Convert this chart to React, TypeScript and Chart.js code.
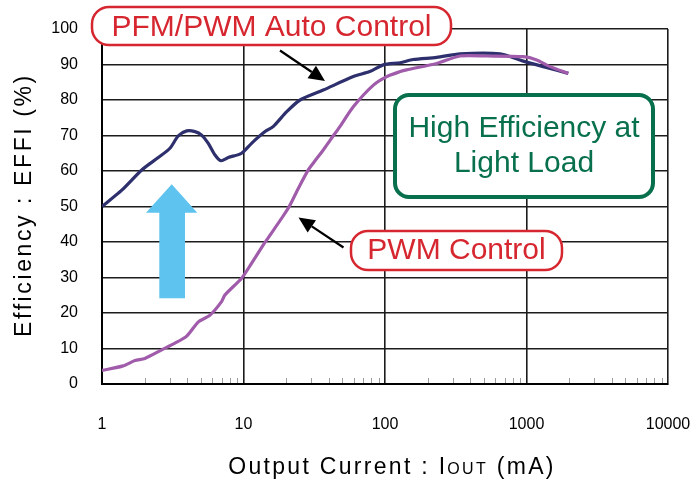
import React, { useEffect, useRef } from 'react';
import { Chart, registerables } from 'chart.js';

Chart.register(...registerables);

// PFM/PWM Auto Control curve (output current mA, efficiency %)
const pfmCurrent = [1, 1.38, 1.91, 2.5, 3.02, 3.46, 3.97, 4.54, 5.06, 5.64, 6.29, 6.93, 7.81, 9.7, 11.4, 14.2, 16.2, 20.2, 25.1, 36.6, 59.7, 78, 97.3, 128, 158, 232, 339, 650, 925, 1315, 1974];
const pfmEff = [50, 54.6, 60.3, 63.8, 66.4, 69.9, 71.3, 71.1, 70.1, 67.8, 64.5, 62.9, 63.8, 65, 67.8, 71.1, 72.5, 76.7, 80, 82.8, 86.6, 88, 89.9, 90.5, 91.4, 92, 93, 93, 91.1, 89.4, 87.5];

// PWM Control curve
const pwmCurrent = [1, 1.41, 1.71, 2.01, 2.64, 3.28, 3.97, 4.8, 5.8, 7.0, 7.4, 9.7, 11.4, 13.8, 14.6, 20.7, 24.4, 28.7, 31.1, 36.6, 41, 48, 59.7, 82.8, 103, 128, 142, 232, 339, 523, 950, 1180, 1466, 1974];
const pwmEff = [3.8, 5.1, 6.6, 7.2, 9.6, 11.5, 13.5, 17.5, 19.4, 23.2, 25.1, 29.8, 34, 39.2, 40.6, 49.5, 55.1, 60.3, 62.2, 65.9, 68.7, 72.5, 78.1, 84.2, 86.6, 88, 88.5, 90.3, 92.4, 92.4, 92.2, 91.3, 89.4, 87.5];

const xTickValues = [1, 10, 100, 1000, 10000];
const yMin = 0;
const yMax = 100;
const yStep = 10;

const pfmLabel = 'PFM/PWM Auto Control';
const pwmLabel = 'PWM Control';
const noteLines = ['High Efficiency at', 'Light Load'];
const yTitle = 'Efficiency : EFFI (%)';
const xTitleParts = ['Output Current : I', 'OUT', ' (mA)'];

const FONT = '"Liberation Sans", Arial, sans-serif';
const RED = '#d6262f';
const GREEN = '#08704c';
const NAVY = '#2e2f6d';
const PURPLE = '#a05caa';
const BLUE = '#5ec3ee';

function pill(ctx: CanvasRenderingContext2D, x: number, y: number, w: number, h: number, r: number) {
  ctx.beginPath();
  ctx.roundRect(x, y, w, h, r);
}

function arrow(ctx: CanvasRenderingContext2D, x0: number, y0: number, x1: number, y1: number) {
  const ang = Math.atan2(y1 - y0, x1 - x0);
  const hl = 16, hw = 7.5;
  const bx = x1 - hl * Math.cos(ang), by = y1 - hl * Math.sin(ang);
  ctx.beginPath();
  ctx.moveTo(x0, y0);
  ctx.lineTo(bx, by);
  ctx.lineWidth = 2.2;
  ctx.strokeStyle = '#000';
  ctx.stroke();
  ctx.beginPath();
  ctx.moveTo(x1, y1);
  ctx.lineTo(bx + hw * Math.sin(ang), by - hw * Math.cos(ang));
  ctx.lineTo(bx - hw * Math.sin(ang), by + hw * Math.cos(ang));
  ctx.closePath();
  ctx.fillStyle = '#000';
  ctx.fill();
}

const zeroPad = (scale: any) => {
  scale.paddingLeft = 0;
  scale.paddingRight = 0;
  scale.paddingTop = 0;
  scale.paddingBottom = 0;
};

const decorPlugin = {
  id: 'decor',
  afterDraw(chart: any) {
    const ctx: CanvasRenderingContext2D = chart.ctx;
    const xs = chart.scales.x;
    const ys = chart.scales.y;
    ctx.save();

    // minor ticks on the bottom axis
    ctx.strokeStyle = '#9c9c9c';
    ctx.lineWidth = 1;
    for (let d = 1; d < 10000; d *= 10) {
      for (let k = 2; k <= 9; k++) {
        const px = Math.round(xs.getPixelForValue(d * k)) + 0.5;
        ctx.beginPath();
        ctx.moveTo(px, ys.bottom - 1);
        ctx.lineTo(px, ys.bottom - 6);
        ctx.stroke();
      }
    }

    // blue up arrow
    ctx.fillStyle = BLUE;
    ctx.beginPath();
    ctx.moveTo(171.7, 184.3);
    ctx.lineTo(197.3, 212.7);
    ctx.lineTo(185, 212.7);
    ctx.lineTo(185, 298.3);
    ctx.lineTo(159.3, 298.3);
    ctx.lineTo(159.3, 212.7);
    ctx.lineTo(146, 212.7);
    ctx.closePath();
    ctx.fill();

    // black arrows
    arrow(ctx, 280, 50.5, 325, 81);
    arrow(ctx, 343.5, 247.5, 298.5, 217.5);

    // red label boxes
    ctx.font = `30px ${FONT}`;
    ctx.textAlign = 'center';
    ctx.textBaseline = 'alphabetic';
    const boxes = [
      { t: pfmLabel, x: 92, y: 7, w: 359, h: 38, by: 36 },
      { t: pwmLabel, x: 351, y: 231, w: 211, h: 39, by: 259 },
    ];
    for (const b of boxes) {
      pill(ctx, b.x, b.y, b.w, b.h, 17);
      ctx.fillStyle = '#fff';
      ctx.fill();
      ctx.lineWidth = 2.5;
      ctx.strokeStyle = RED;
      ctx.stroke();
      ctx.fillStyle = RED;
      ctx.fillText(b.t, b.x + b.w / 2, b.by);
    }

    // green note box
    pill(ctx, 395, 95, 258, 102, 14);
    ctx.fillStyle = '#fff';
    ctx.fill();
    ctx.lineWidth = 4;
    ctx.strokeStyle = GREEN;
    ctx.stroke();
    ctx.fillStyle = GREEN;
    ctx.fillText(noteLines[0], 524, 137);
    ctx.fillText(noteLines[1], 524, 172);

    // axis titles
    ctx.fillStyle = '#000';
    (ctx as any).letterSpacing = '2.3px';
    ctx.textAlign = 'left';
    const bigF = `23px ${FONT}`;
    const smallF = `16px ${FONT}`;
    ctx.font = bigF;
    const w0 = ctx.measureText(xTitleParts[0]).width;
    const w2 = ctx.measureText(xTitleParts[2]).width;
    ctx.font = smallF;
    const w1 = ctx.measureText(xTitleParts[1]).width;
    let cx = 392 - (w0 + w1 + w2) / 2;
    const base = 474;
    ctx.font = bigF;
    ctx.fillText(xTitleParts[0], cx, base);
    cx += w0;
    ctx.font = smallF;
    ctx.fillText(xTitleParts[1], cx, base);
    cx += w1;
    ctx.font = bigF;
    ctx.fillText(xTitleParts[2], cx, base);

    ctx.translate(31, 205);
    ctx.rotate(-Math.PI / 2);
    ctx.textAlign = 'center';
    ctx.font = bigF;
    (ctx as any).letterSpacing = '2.6px';
    ctx.fillText(yTitle, 0, 0);
    ctx.restore();
  },
};

export default function App() {
  const ref = useRef<HTMLCanvasElement>(null);
  useEffect(() => {
    document.body.style.margin = '0';
    const canvas = ref.current!;
    const chart = new Chart(canvas, {
      type: 'line',
      data: {
        datasets: [
          {
            label: pwmLabel,
            data: pwmCurrent.map((x, i) => ({ x, y: pwmEff[i] })),
            borderColor: PURPLE,
            borderWidth: 3.2,
            pointRadius: 0,
            tension: 0.25,
            fill: false,
            order: 0,
          },
          {
            label: pfmLabel,
            data: pfmCurrent.map((x, i) => ({ x, y: pfmEff[i] })),
            borderColor: NAVY,
            borderWidth: 3.2,
            pointRadius: 0,
            tension: 0.25,
            fill: false,
            order: 1,
          },
        ],
      },
      options: {
        responsive: false,
        animation: false,
        devicePixelRatio: 1,
        layout: { padding: { left: 0, right: 22, top: 29, bottom: 0 } },
        plugins: { legend: { display: false }, tooltip: { enabled: false } },
        scales: {
          x: {
            type: 'logarithmic',
            min: 1,
            max: 10000,
            afterBuildTicks: (scale: any) => {
              scale.ticks = xTickValues.map((v) => ({ value: v }));
            },
            afterFit: (scale: any) => {
              scale.height = 95;
              zeroPad(scale);
            },
            ticks: {
              autoSkip: false,
              maxRotation: 0,
              padding: 31,
              color: '#000',
              font: { family: FONT, size: 16 },
              callback: (v: any) => String(v),
            },
            grid: { color: '#1c1c1c', lineWidth: 1.6, drawTicks: false },
            border: { display: true, color: '#000', width: 2 },
          },
          y: {
            min: yMin,
            max: yMax,
            afterFit: (scale: any) => {
              scale.width = 102;
              zeroPad(scale);
            },
            ticks: {
              stepSize: yStep,
              padding: 24,
              color: '#000',
              font: { family: FONT, size: 16 },
            },
            grid: { color: '#1c1c1c', lineWidth: 1.6, drawTicks: false },
            border: { display: true, color: '#000', width: 2 },
          },
        },
      },
      plugins: [decorPlugin],
    } as any);
    return () => chart.destroy();
  }, []);
  return (
    <div style={{ position: 'fixed', left: 0, top: 0, width: 690, height: 479, background: '#fff' }}>
      <canvas ref={ref} width={690} height={479} />
    </div>
  );
}
